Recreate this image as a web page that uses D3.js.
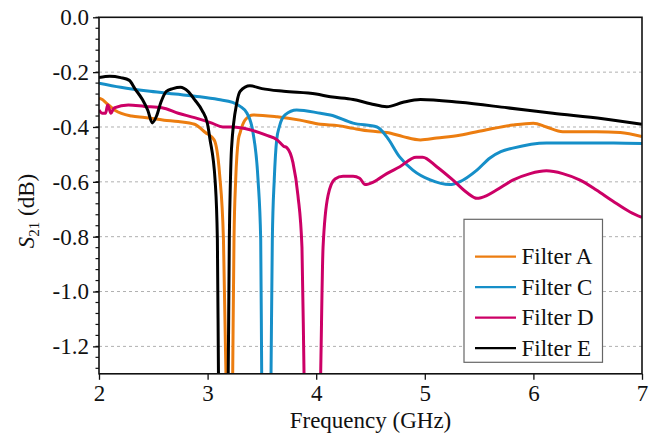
<!DOCTYPE html>
<html><head><meta charset="utf-8">
<script src="https://cdn.jsdelivr.net/npm/d3@7"></script>
<style>
@font-face{font-family:'ChartSerif';src:local('Liberation Serif'),local('LiberationSerif'),local('LiberationSerif-Regular');font-style:normal;}
@font-face{font-family:'ChartSerif';src:local('Liberation Serif Italic'),local('LiberationSerif-Italic');font-style:italic;}
</style>
</head><body style="margin:0"><svg id="c" width="651" height="443" font-family="'Liberation Serif', monospace" style="font-family:'Liberation Serif', monospace"></svg>
<script>
// ---- data ----
const seriesNames = ["Filter A","Filter C","Filter D","Filter E"];
const seriesColors = ["#EC7D10","#168FC8","#CC0066","#000000"];
const xTicks = [2,3,4,5,6,7];
const yTicks = [0.0,-0.2,-0.4,-0.6,-0.8,-1.0,-1.2];

const fA = [2.00,2.03,2.06,2.15,2.30,2.42,2.60,2.73,2.88,2.98,3.06,3.11,3.146,3.169,3.20,3.231,3.243,3.259,3.283,3.30,3.344,3.42,3.64,3.85,4.04,4.20,4.34,4.50,4.65,4.80,4.96,5.11,5.32,5.57,5.81,6.00,6.12,6.27,6.58,6.80,7.00];
const sA = [-0.295,-0.30,-0.31,-0.34,-0.36,-0.365,-0.375,-0.38,-0.39,-0.42,-0.447,-0.57,-0.81,-1.3,-2.5,-1.3,-0.81,-0.59,-0.447,-0.42,-0.375,-0.356,-0.363,-0.375,-0.39,-0.395,-0.405,-0.415,-0.42,-0.435,-0.447,-0.44,-0.43,-0.41,-0.393,-0.386,-0.40,-0.417,-0.417,-0.42,-0.435];

const fC = [2.00,2.20,2.47,2.70,2.93,3.10,3.23,3.30,3.363,3.418,3.464,3.489,3.498,3.54,3.584,3.596,3.614,3.636,3.66,3.713,3.82,4.04,4.13,4.34,4.56,4.65,4.77,4.89,5.05,5.23,5.32,5.48,5.60,5.70,5.81,6.12,6.43,6.74,7.00];
const sC = [-0.24,-0.255,-0.27,-0.28,-0.29,-0.30,-0.31,-0.325,-0.35,-0.42,-0.59,-0.81,-1.3,-2.5,-1.3,-0.81,-0.59,-0.447,-0.40,-0.356,-0.338,-0.35,-0.356,-0.386,-0.40,-0.436,-0.51,-0.557,-0.593,-0.61,-0.60,-0.557,-0.513,-0.49,-0.477,-0.458,-0.458,-0.458,-0.46];

const fD = [2.00,2.03,2.06,2.08,2.11,2.14,2.27,2.42,2.58,2.73,2.88,3.04,3.14,3.23,3.39,3.54,3.64,3.70,3.731,3.786,3.832,3.869,3.888,3.96,4.041,4.063,4.109,4.173,4.247,4.34,4.40,4.45,4.53,4.65,4.77,4.92,4.98,5.11,5.26,5.39,5.48,5.57,5.66,5.81,5.97,6.12,6.27,6.43,6.58,6.73,6.89,7.00];
const sD = [-0.338,-0.35,-0.35,-0.32,-0.35,-0.33,-0.32,-0.325,-0.33,-0.35,-0.366,-0.386,-0.40,-0.40,-0.41,-0.43,-0.447,-0.47,-0.476,-0.53,-0.65,-0.84,-1.3,-2.5,-1.3,-0.84,-0.65,-0.59,-0.58,-0.58,-0.587,-0.61,-0.60,-0.57,-0.545,-0.51,-0.51,-0.545,-0.594,-0.64,-0.66,-0.65,-0.63,-0.594,-0.57,-0.56,-0.57,-0.594,-0.63,-0.67,-0.71,-0.73];

const fE = [2.00,2.10,2.20,2.28,2.33,2.40,2.45,2.49,2.53,2.57,2.62,2.68,2.75,2.82,2.88,2.95,3.00,3.02,3.07,3.09,3.10,3.14,3.19,3.20,3.21,3.22,3.27,3.30,3.39,3.50,3.70,4.00,4.13,4.34,4.50,4.65,4.80,4.96,5.32,5.76,6.18,6.64,7.00];
const sE = [-0.22,-0.215,-0.22,-0.23,-0.26,-0.30,-0.34,-0.385,-0.36,-0.31,-0.27,-0.26,-0.255,-0.27,-0.30,-0.34,-0.39,-0.44,-0.60,-0.81,-1.3,-2.5,-1.3,-0.81,-0.60,-0.48,-0.31,-0.27,-0.25,-0.26,-0.27,-0.28,-0.29,-0.30,-0.315,-0.326,-0.31,-0.30,-0.31,-0.33,-0.35,-0.37,-0.39];

const seriesF = [fA,fC,fD,fE];
const seriesS = [sA,sC,sD,sE];

// ---- layout ----
const L=99, R=642, T=17.3, B=373.8;
const svg = d3.select("#c");
const x = d3.scaleLinear().domain([2,7]).range([L,R]);
const y = d3.scaleLinear().domain([0,-1.3]).range([T,B]);
const FS = 23;
const FF = "'Liberation Serif', ChartSerif, monospace";
function setFont(sel, size){ sel.attr("font-family",FF).attr("font-size",size).style("font-family",FF).style("font-size",size+"px"); return sel; }

// grid
svg.append("g").selectAll("line").data(yTicks.filter(v=>v<0)).join("line")
  .attr("x1",L).attr("x2",R).attr("y1",d=>y(d)).attr("y2",d=>y(d))
  .attr("stroke","#b0b0b0").attr("stroke-width",1).attr("stroke-dasharray","3,3");

// clip
svg.append("clipPath").attr("id","clip").append("rect").attr("x",L).attr("y",T).attr("width",R-L).attr("height",B-T);

const line = d3.line().x(d=>x(d[0])).y(d=>y(d[1])).curve(d3.curveMonotoneX);
const gL = svg.append("g").attr("clip-path","url(#clip)");
seriesF.forEach((fs,i)=>{
  const pts = fs.map((f,j)=>[f,seriesS[i][j]]);
  gL.append("path").datum(pts).attr("d",line).attr("fill","none")
    .attr("stroke",seriesColors[i]).attr("stroke-width",3).attr("stroke-linejoin","round");
});

// axes
const yMinor = d3.range(0,-1.3001,-0.04).map(v=>+v.toFixed(2));
const yAxis = d3.axisLeft(y).tickValues(yTicks).tickFormat(d=>d.toFixed(1)).tickSize(6).tickPadding(4);
const gy = svg.append("g").attr("transform",`translate(${L},0)`).call(yAxis);
gy.append("g").selectAll("line").data(yMinor).join("line")
  .attr("x1",0).attr("x2",-3.5).attr("y1",d=>y(d)).attr("y2",d=>y(d)).attr("stroke","#111").attr("stroke-width",1.2);
const xAxis = d3.axisBottom(x).tickValues(xTicks).tickFormat(d3.format("d")).tickSize(6).tickPadding(5);
const gx = svg.append("g").attr("transform",`translate(0,${B})`).call(xAxis);
[gx,gy].forEach(g=>{
  setFont(g, FS);
  g.select(".domain").remove();
  g.selectAll(".tick line").attr("stroke","#111").attr("stroke-width",1.3);
  setFont(g.selectAll(".tick text").attr("fill","#111"), FS);
});
// frame
svg.append("rect").attr("x",L).attr("y",T).attr("width",R-L).attr("height",B-T)
  .attr("fill","none").attr("stroke","#111").attr("stroke-width",1.6);

// axis titles
setFont(svg.append("text"),FS).attr("x",(L+R)/2).attr("y",428).attr("text-anchor","middle").attr("fill","#111").text("Frequency (GHz)");
const yt = setFont(svg.append("text"),FS).attr("transform","translate(34,211) rotate(-90)").attr("text-anchor","middle").attr("fill","#111");
yt.append("tspan").attr("font-style","italic").text("S");
yt.append("tspan").attr("font-size",FS*0.65).style("font-size",(FS*0.65)+"px").attr("dy",5).text("21");
yt.append("tspan").attr("dy",-5).text(" (dB)");

// legend
const lg = svg.append("g");
lg.append("rect").attr("x",464).attr("y",219.3).attr("width",138.5).attr("height",143)
  .attr("fill","#fff").attr("stroke","#666").attr("stroke-width",1.2);
seriesNames.forEach((n,i)=>{
  const yy = 256.7 + i*30.5;
  lg.append("line").attr("x1",475).attr("x2",516).attr("y1",yy).attr("y2",yy)
    .attr("stroke",seriesColors[i]).attr("stroke-width",2.2);
  setFont(lg.append("text"),FS).attr("x",521.5).attr("y",yy+7.5).attr("fill","#111").text(n);
});
</script></body></html>
